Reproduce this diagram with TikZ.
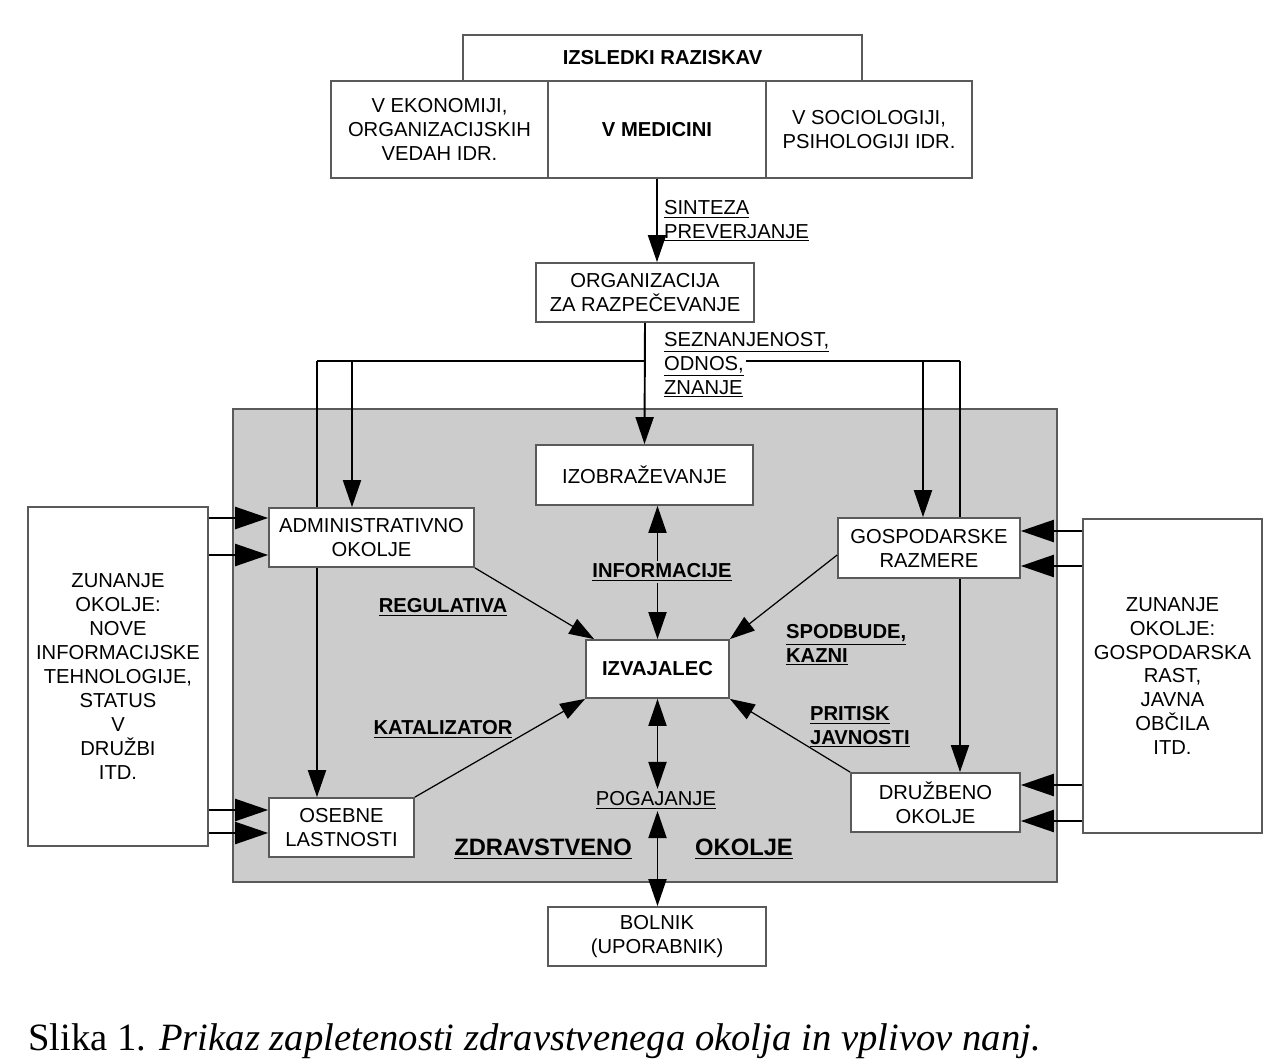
\documentclass[tikz,border=0pt]{standalone}
\usepackage{fontspec}
\setmainfont{Liberation Sans}
\newfontfamily\capfont{Liberation Serif}
\usepackage{tikz}
\usetikzlibrary{calc}
\usetikzlibrary{arrows.meta}
\definecolor{envgray}{RGB}{204,204,204}
\definecolor{boxline}{RGB}{90,90,90}
\pgfdeclarelayer{back}
\pgfsetlayers{back,main}

\begin{document}
\begin{tikzpicture}[x=0.02cm, y=-0.02cm,
  font=\fontsize{11.5}{13.6}\selectfont,
  box/.style={draw=boxline, line width=1pt, fill=white, inner sep=0pt, align=center},
  lab/.style={inner sep=1pt, align=left},
  arr/.style={line width=1.1pt, -{Triangle[length=0.54cm,width=0.36cm]}},
  darr/.style={line width=1.1pt, {Triangle[length=0.54cm,width=0.36cm]}-{Triangle[length=0.54cm,width=0.36cm]}},
  harr/.style={line width=1.3pt, -{Triangle[length=0.66cm,width=0.44cm]}},
  thin/.style={line width=0.7pt, -{Triangle[length=0.5cm,width=0.34cm]}}]
\useasboundingbox (0,0) rectangle (1265,1061);

\node [box, minimum width=7.98cm, minimum height=0.92cm] (res) at (662.5,58) {\textbf{IZSLEDKI RAZISKAV}};
\node [box, minimum width=4.34cm, minimum height=1.94cm] (eko) at (439.5,129.5) {V EKONOMIJI,\\ORGANIZACIJSKIH\\VEDAH IDR.};
\node [box, minimum width=4.36cm, minimum height=1.94cm] (med) at (657,129.5) {\textbf{V MEDICINI}};
\node [box, minimum width=4.12cm, minimum height=1.94cm] (soc) at (869,129.5) {V SOCIOLOGIJI,\\PSIHOLOGIJI IDR.};
\node [box, minimum width=4.36cm, minimum height=1.18cm] (org) at (645,292.5) {ORGANIZACIJA\\ZA RAZPEČEVANJE};
\node [box, minimum width=4.34cm, minimum height=1.2cm] (edu) at (644.5,475) {IZOBRAŽEVANJE};
\node [box, minimum width=2.86cm, minimum height=1.16cm] (izv) at (657.5,669) {\textbf{IZVAJALEC}};
\node [box, minimum width=4.1cm, minimum height=1.18cm] (adm) at (371.5,537.5) {ADMINISTRATIVNO\\OKOLJE};
\node [box, minimum width=3.64cm, minimum height=1.2cm] (gosp) at (929,548) {GOSPODARSKE\\RAZMERE};
\node [box, minimum width=3.38cm, minimum height=1.18cm] (druz) at (935.5,802.5) {DRUŽBENO\\OKOLJE};
\node [box, minimum width=2.9cm, minimum height=1.18cm] (oseb) at (341.5,827.5) {OSEBNE\\LASTNOSTI};
\node [box, minimum width=4.36cm, minimum height=1.18cm] (bol) at (657,936.5) {BOLNIK\\(UPORABNIK)};
\node [box, minimum width=3.6cm, minimum height=6.78cm] (zunL) at (118,676.5) {ZUNANJE\\OKOLJE:\\NOVE\\INFORMACIJSKE\\TEHNOLOGIJE,\\STATUS\\V\\DRUŽBI\\ITD.};
\node [box, minimum width=3.58cm, minimum height=6.28cm] (zunR) at (1172.5,676) {ZUNANJE\\OKOLJE:\\GOSPODARSKA\\RAST,\\JAVNA\\OBČILA\\ITD.};

\node [lab, anchor=west] (sint) at (662,221) {\underline{SINTEZA}\\\underline{PREVERJANJE}};
\node [lab, anchor=west] (sez) at (662,365) {\underline{SEZNANJENOST,}\\\underline{ODNOS,}\\\underline{ZNANJE}};
\node [lab] (info) at (662,572) {\textbf{\underline{INFORMACIJE}}};
\node [lab] (reg) at (443,607) {\textbf{\underline{REGULATIVA}}};
\node [lab, anchor=west] (spod) at (784,645) {\textbf{\underline{SPODBUDE,}}\\\textbf{\underline{KAZNI}}};
\node [lab, anchor=west] (prit) at (808,727) {\textbf{\underline{PRITISK}}\\\textbf{\underline{JAVNOSTI}}};
\node [lab] (kat) at (443,729) {\textbf{\underline{KATALIZATOR}}};
\node [lab] (pog) at (656,800) {\underline{POGAJANJE}};
\node [lab, font=\fontsize{13.5}{16}\selectfont\bfseries] (zdr) at (543,849) {\underline{ZDRAVSTVENO}};
\node [lab, font=\fontsize{13.5}{16}\selectfont\bfseries] (okol) at (744,849) {\underline{OKOLJE}};

\coordinate (split) at (645,361);
\coordinate (sezEnd) at (746,361);
\coordinate (l1) at (317,361);
\coordinate (l2) at (352,361);
\coordinate (r1) at (923,361);
\coordinate (r2) at (960,361);

\begin{pgfonlayer}{back}
\draw [fill=envgray, draw=boxline, line width=1pt] (233,409) rectangle (1057,882);
\draw [line width=1.1pt] (l1) -- (split);
\draw [line width=1.1pt] (sezEnd) -- (r2);
\draw [arr] (l1) -- (l1 |- oseb.north);
\draw [arr] (r2) -- (r2 |- druz.north);
\end{pgfonlayer}

\draw [arr] (med.south) -- (med.south |- org.north);
\draw [arr] (org.south) -- (edu.north);
\draw [arr] (l2) -- (l2 |- adm.north);
\draw [arr] (r1) -- (r1 |- gosp.north);

\draw [arr] (info.north -| izv.north) -- (izv.north |- edu.south);
\draw [arr] (info.south -| izv.north) -- (izv.north);
\draw [darr] (izv.south) -- (izv.south |- pog.north);
\draw [darr] (izv.south |- pog.south) -- (izv.south |- bol.north);

\draw [thin] (adm.south east) -- ([xshift=0.18cm]izv.north west);
\draw [thin] ([yshift=-0.14cm]gosp.west) -- (izv.north east);
\draw [thin] (druz.north west) -- (izv.south east);
\draw [thin] (oseb.north east) -- (izv.south west);

\foreach \dy/\tgt in {-19.5/adm, 17.5/adm, -17.5/oseb, 5.5/oseb} {
  \path ($(\tgt.west)+(0,\dy)$) coordinate (tip);
  \draw [harr] (zunL.east |- tip) -- (tip);
}
\foreach \dy/\tgt in {-17/gosp, 18/gosp, -17.5/druz, 18.5/druz} {
  \path ($(\tgt.east)+(0,\dy)$) coordinate (tip);
  \draw [harr] (zunR.west |- tip) -- (tip);
}

\node [anchor=base west, inner sep=0pt, font=\capfont\fontsize{22}{26}\selectfont] (cap) at (28,1050) {Slika 1. \textit{Prikaz zapletenosti zdravstvenega okolja in vplivov nanj.}};
\end{tikzpicture}
\end{document}
